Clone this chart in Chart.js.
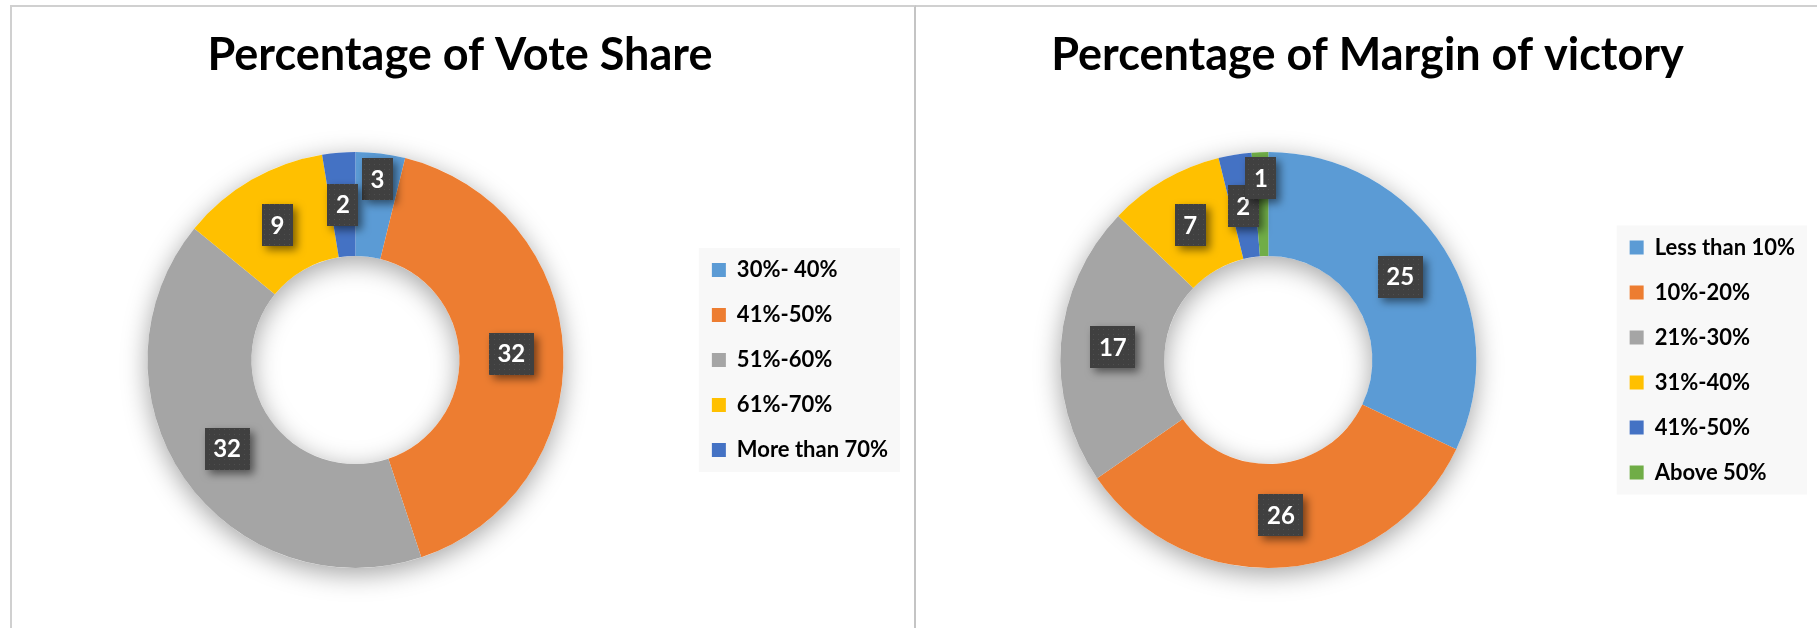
<!DOCTYPE html>
<html>
<head>
<meta charset="utf-8">
<script src="https://cdn.jsdelivr.net/npm/chart.js@4.4.0/dist/chart.umd.min.js"></script>
<style>
    html, body { margin: 0; padding: 0; background: #fff; }
    body { width: 1817px; height: 628px; overflow: hidden; position: relative; }
    .panel { position: absolute; top: 5px; height: 623px; box-sizing: border-box; border-top: 2px solid #d0d0d0; }
    #leftPanel { left: 10px; width: 906px; border-left: 2px solid #d0d0d0; border-right: 2px solid #c4c4c4; }
    #rightPanel { left: 916px; width: 901px; }
    canvas { display: block; }
</style>
</head>
<body>
<div class="panel" id="leftPanel"><canvas id="voteChart" width="902" height="621"></canvas></div>
<div class="panel" id="rightPanel"><canvas id="marginChart" width="901" height="621"></canvas></div>

<script>
    // vote share chart
    var voteLabels = ['30%- 40%', '41%-50%', '51%-60%', '61%-70%', 'More than 70%'];
    var voteCounts = [3, 32, 32, 9, 2];
    var voteColors = ['#5B9BD5', '#ED7D31', '#A5A5A5', '#FFC000', '#4472C4'];

    // margin of victory chart
    var marginLabels = ['Less than 10%', '10%-20%', '21%-30%', '31%-40%', '41%-50%', 'Above 50%'];
    var marginCounts = [25, 26, 17, 7, 2, 1];
    var marginColors = ['#5B9BD5', '#ED7D31', '#A5A5A5', '#FFC000', '#4472C4', '#70AD47'];

    var labelFont = 'bold 24px Lato';

    function dotPattern(ctx) {
        var tile = document.createElement('canvas');
        tile.width = 5;
        tile.height = 5;
        var t = tile.getContext('2d');
        t.fillStyle = '#404040';
        t.fillRect(0, 0, 5, 5);
        t.fillStyle = '#4f4f4f';
        t.fillRect(2, 2, 1, 1);
        return ctx.createPattern(tile, 'repeat');
    }

    // soft shadow under the ring, like the office "outer shadow" effect
    var ringShadow = {
        id: 'ringShadow',
        beforeDatasetsDraw: function (chart) {
            var arc = chart.getDatasetMeta(0).data[0];
            if (!arc) return;
            var ctx = chart.ctx;
            ctx.save();
            ctx.beginPath();
            ctx.arc(arc.x, arc.y, arc.outerRadius, 0, Math.PI * 2);
            ctx.moveTo(arc.x + arc.innerRadius, arc.y);
            ctx.arc(arc.x, arc.y, arc.innerRadius, 0, Math.PI * 2, true);
            ctx.closePath();
            ctx.shadowColor = 'rgba(0,0,0,0.36)';
            ctx.shadowBlur = 26;
            ctx.shadowOffsetY = 6;
            ctx.fillStyle = '#ffffff';
            ctx.fill();
            ctx.restore();
        }
    };

    // grey panel behind the legend
    var legendPanel = {
        id: 'legendPanel',
        beforeDraw: function (chart) {
            var boxes = chart.legend && chart.legend.legendHitBoxes;
            if (!boxes || !boxes.length) return;
            var l = Infinity, r = -Infinity, t = Infinity, b = -Infinity;
            boxes.forEach(function (h) {
                l = Math.min(l, h.left);
                r = Math.max(r, h.left + h.width);
                t = Math.min(t, h.top);
                b = Math.max(b, h.top + h.height);
            });
            var ctx = chart.ctx;
            ctx.save();
            ctx.fillStyle = '#f8f8f8';
            ctx.fillRect(l - 13, t - 11, r - l + 25, b - t + 22);
            ctx.restore();
        }
    };

    function overlaps(a, b, m) {
        return Math.abs(a.x - b.x) < (a.w + b.w) / 2 + m &&
            Math.abs(a.y - b.y) < (a.h + b.h) / 2 + m;
    }

    // dark value boxes in the middle of each slice
    var boxLabels = {
        id: 'boxLabels',
        afterDatasetsDraw: function (chart) {
            var ctx = chart.ctx;
            var meta = chart.getDatasetMeta(0);
            var values = chart.data.datasets[0].data;
            ctx.save();
            ctx.font = labelFont;
            var items = meta.data.map(function (arc, i) {
                var p = arc.getCenterPoint();
                var txt = String(values[i]);
                return {
                    x: p.x, y: p.y, txt: txt,
                    w: Math.round(ctx.measureText(txt).width + 17), h: 42,
                    ang: (arc.startAngle + arc.endAngle) / 2
                };
            });
            // a crowded label gets nudged out along its slice
            for (var i = 0; i < items.length; i++) {
                var prev = items[(i - 1 + items.length) % items.length];
                if (prev !== items[i] && overlaps(items[i], prev, 4)) {
                    items[i].x += Math.cos(items[i].ang) * 26;
                    items[i].y += Math.sin(items[i].ang) * 26;
                }
            }
            var pattern = dotPattern(ctx);
            items.forEach(function (it) {
                ctx.save();
                ctx.shadowColor = 'rgba(0,0,0,0.5)';
                ctx.shadowBlur = 8;
                ctx.shadowOffsetX = 4;
                ctx.shadowOffsetY = 4;
                ctx.fillStyle = pattern;
                ctx.fillRect(Math.round(it.x - it.w / 2), Math.round(it.y - it.h / 2), it.w, it.h);
                ctx.restore();
                ctx.fillStyle = '#ffffff';
                ctx.textAlign = 'center';
                ctx.textBaseline = 'middle';
                ctx.fillText(it.txt, it.x, it.y + 1);
            });
            ctx.restore();
        }
    };

    function drawDonut(canvasId, title, labels, counts, colors, padLeft, padRight) {
        var canvas = document.getElementById(canvasId);
        return new Chart(canvas.getContext('2d'), {
            type: 'doughnut',
            data: {
                labels: labels,
                datasets: [{
                    data: counts,
                    backgroundColor: colors,
                    borderWidth: 0,
                    hoverOffset: 0
                }]
            },
            options: {
                responsive: false,
                animation: false,
                events: [],
                cutout: '50%',
                layout: {
                    padding: { left: padLeft, right: padRight, top: 0, bottom: 60 }
                },
                plugins: {
                    title: {
                        display: true,
                        text: title,
                        color: '#000',
                        font: { family: 'Lato', size: 45, weight: 'bold' },
                        padding: { top: 21, bottom: 70 }
                    },
                    legend: {
                        position: 'right',
                        fullSize: false,
                        labels: {
                            boxWidth: 14,
                            boxHeight: 14,
                            padding: 23,
                            color: '#000',
                            font: { family: 'Lato', size: 22, weight: 'bold' }
                        }
                    },
                    tooltip: { enabled: false }
                }
            },
            plugins: [legendPanel, ringShadow, boxLabels]
        });
    }

    drawDonut('voteChart', 'Percentage of Vote Share', voteLabels, voteCounts, voteColors, 10, 16);
    drawDonut('marginChart', 'Percentage of Margin of victory', marginLabels, marginCounts, marginColors, 14, 12);
</script>
</body>
</html>
